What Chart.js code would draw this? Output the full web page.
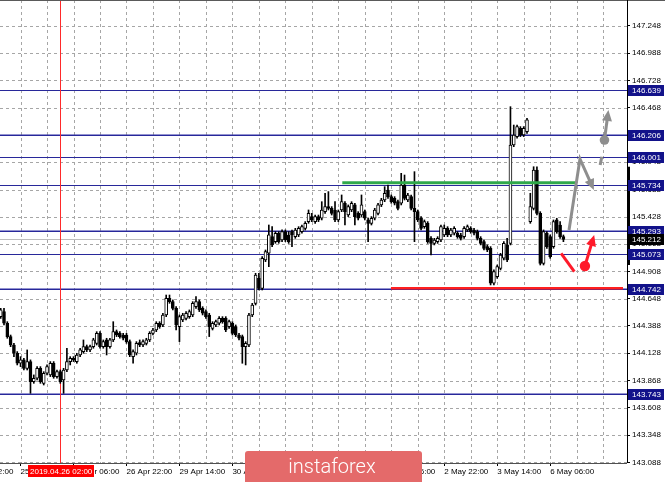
<!DOCTYPE html>
<html><head><meta charset="utf-8">
<script src="https://cdn.jsdelivr.net/npm/chart.js@4.4.1/dist/chart.umd.min.js"></script>
<style>html,body{margin:0;padding:0;background:#fff;}canvas{display:block}</style>
</head><body>
<canvas id="c" width="665" height="482"></canvas>
<script>
// H1 bars, 25 Apr 08:00 .. 6 May 10:00 (bar index 0..170)
const barOpen = [
144.477,144.525,144.414,144.287,144.207,144.128,144.033,144.065,143.985,144.049,
143.858,143.890,143.985,143.842,143.938,143.922,144.033,143.906,143.953,143.874,
143.969,144.049,144.080,144.049,144.112,144.144,144.191,144.160,144.191,144.223,
144.318,144.191,144.255,144.191,144.255,144.334,144.318,144.302,144.302,144.239,
144.096,144.128,144.230,144.207,144.223,144.255,144.318,144.350,144.414,144.398,
144.493,144.652,144.620,144.556,144.382,144.445,144.461,144.477,144.493,144.572,
144.620,144.556,144.525,144.493,144.366,144.398,144.414,144.461,144.461,144.382,
144.414,144.382,144.302,144.287,144.191,144.207,144.493,144.604,144.842,144.747,
145.017,145.081,145.240,145.192,145.271,145.208,145.287,145.255,145.287,145.239,
145.255,145.287,145.318,145.382,145.430,145.382,145.430,145.414,145.477,145.525,
145.509,145.493,145.398,145.493,145.557,145.445,145.493,145.541,145.461,145.445,
145.477,145.398,145.366,145.414,145.461,145.541,145.588,145.683,145.620,145.604,
145.572,145.557,145.731,145.588,145.620,145.509,145.477,145.414,145.334,145.366,
145.223,145.175,145.191,145.207,145.255,145.318,145.255,145.271,145.271,145.255,
145.239,145.302,145.318,145.302,145.287,145.223,145.191,145.144,145.128,144.795,
144.858,144.937,145.033,145.160,145.175,146.112,146.192,146.271,146.207,146.239,
145.382,145.509,145.874,145.461,144.985,145.271,145.239,145.144,145.398,145.350,
145.239];
const barHigh = [
144.556,144.556,144.429,144.302,144.223,144.144,144.096,144.080,144.160,144.065,
143.922,144.001,144.001,143.953,144.017,144.049,144.049,143.969,143.969,143.985,
144.176,144.096,144.096,144.128,144.176,144.255,144.207,144.207,144.271,144.334,
144.334,144.255,144.271,144.271,144.429,144.350,144.334,144.318,144.318,144.255,
144.160,144.239,144.255,144.255,144.271,144.334,144.366,144.429,144.429,144.509,
144.683,144.683,144.636,144.572,144.493,144.509,144.525,144.541,144.620,144.668,
144.636,144.572,144.541,144.509,144.429,144.445,144.477,144.477,144.477,144.445,
144.429,144.398,144.318,144.302,144.239,144.509,144.604,144.890,144.890,145.049,
145.112,145.350,145.334,145.287,145.287,145.303,145.303,145.287,145.302,145.318,
145.334,145.350,145.382,145.493,145.461,145.445,145.445,145.572,145.652,145.668,
145.525,145.572,145.493,145.636,145.572,145.541,145.572,145.557,145.477,145.636,
145.493,145.414,145.430,145.509,145.557,145.604,145.715,145.731,145.636,145.620,
145.588,145.842,145.826,145.652,145.636,145.858,145.493,145.430,145.398,145.382,
145.239,145.223,145.239,145.350,145.350,145.334,145.318,145.334,145.287,145.271,
145.334,145.350,145.334,145.318,145.302,145.239,145.207,145.160,145.144,144.922,
144.969,145.080,145.191,145.223,146.477,146.302,146.302,146.287,146.287,146.367,
145.652,145.905,145.905,145.477,145.303,145.287,145.255,145.398,145.414,145.382,
145.255];
const barLow = [
144.461,144.398,144.271,144.191,144.096,144.017,144.001,143.969,143.969,143.747,
143.842,143.874,143.842,143.826,143.922,143.906,143.890,143.890,143.842,143.747,
143.953,144.017,144.049,144.033,144.096,144.128,144.144,144.144,144.176,144.207,
144.176,144.176,144.112,144.176,144.239,144.287,144.271,144.255,144.223,144.096,
144.033,144.112,144.191,144.191,144.207,144.239,144.302,144.334,144.366,144.382,
144.477,144.604,144.541,144.350,144.239,144.429,144.445,144.461,144.477,144.556,
144.525,144.493,144.461,144.287,144.350,144.382,144.398,144.414,144.334,144.366,
144.302,144.287,144.255,144.033,144.017,144.191,144.477,144.588,144.731,144.731,
145.001,144.953,145.144,145.176,145.176,145.192,145.192,145.175,145.144,145.223,
145.239,145.271,145.302,145.366,145.382,145.366,145.382,145.398,145.461,145.493,
145.445,145.382,145.382,145.477,145.350,145.430,145.477,145.350,145.398,145.430,
145.398,145.191,145.350,145.398,145.445,145.525,145.572,145.604,145.557,145.541,
145.493,145.541,145.588,145.572,145.493,145.191,145.382,145.302,145.318,145.175,
145.064,145.160,145.175,145.191,145.239,145.239,145.239,145.255,145.223,145.207,
145.223,145.287,145.271,145.255,145.207,145.160,145.112,145.096,144.779,144.779,
144.842,144.922,145.017,145.001,145.160,146.096,146.176,146.192,146.192,146.223,
145.366,145.493,145.445,144.969,144.969,145.128,145.033,145.128,145.271,145.223,
145.191];
const barClose = [
144.541,144.414,144.287,144.207,144.128,144.033,144.065,143.985,144.049,143.858,
143.890,143.985,143.858,143.938,144.001,144.033,143.906,143.953,143.858,143.969,
144.049,144.080,144.065,144.112,144.160,144.191,144.160,144.191,144.255,144.318,
144.191,144.239,144.191,144.255,144.334,144.302,144.287,144.271,144.239,144.112,
144.144,144.223,144.207,144.239,144.255,144.318,144.350,144.414,144.382,144.493,
144.652,144.620,144.556,144.398,144.477,144.493,144.509,144.525,144.604,144.620,
144.541,144.509,144.477,144.382,144.414,144.429,144.461,144.429,144.350,144.429,
144.318,144.302,144.271,144.191,144.223,144.493,144.588,144.874,144.747,145.033,
145.096,145.256,145.160,145.271,145.192,145.287,145.208,145.191,145.255,145.302,
145.318,145.334,145.366,145.461,145.398,145.430,145.398,145.493,145.525,145.509,
145.461,145.398,145.477,145.572,145.477,145.525,145.557,145.430,145.414,145.541,
145.414,145.366,145.414,145.493,145.541,145.588,145.652,145.620,145.572,145.557,
145.509,145.731,145.604,145.636,145.509,145.477,145.398,145.318,145.382,145.191,
145.175,145.207,145.223,145.334,145.318,145.255,145.302,145.318,145.239,145.223,
145.318,145.334,145.287,145.271,145.223,145.175,145.128,145.112,144.795,144.906,
144.953,145.064,145.175,145.017,146.112,146.207,146.287,146.207,146.271,146.351,
145.525,145.874,145.461,144.985,145.287,145.144,145.048,145.382,145.287,145.239,
145.212];

const gridBars = [6,14,22,30,38,46,54,62,70,78,86,94,102,110,118,126,134,142,150,158,166,174,182];
const tickBars = [-10,6,22,38,54,70,86,102,118,134,150,166];
const tickLabels = ["24 Apr 22:00","25 Apr 14:00","26 Apr 06:00","26 Apr 22:00","29 Apr 14:00","30 Apr 06:00","30 Apr 22:00","1 May 14:00","2 May 06:00","2 May 22:00","3 May 14:00","6 May 06:00"];
const priceTicks = [143.088,143.348,143.608,143.868,144.128,144.388,144.648,144.908,145.168,145.428,145.688,145.948,146.208,146.468,146.728,146.988,147.248];
const levelPrices = [146.639,146.206,146.001,145.734,145.293,145.073,144.742,143.743];
const lastPrice = 145.212;
const markerBar = 18;
const markerText = "2019.04.26 02:00";
const greenSeg = [[103.2,145.752],[173.5,145.752]];
const redSeg = [[117.9,144.748],[188.0,144.748]];
const grayPath = [[171.7,145.302],[175.0,145.979],[179.2,145.683]];
const grayDash = [[181.1,145.921],[181.6,146.000]];
const grayUp = [[182.4,146.159],[183.6,146.445]];
const redPath = [[169.3,145.080],[173.3,144.905]];
const redUp = [[176.5,144.959],[179.3,145.255]];
const todayFrom = 160;

const FONT = '"Liberation Sans", Arial, sans-serif';
const lightLevels = [146.206,145.293,144.742,143.743];

function px(v){return Math.round(v)+0.5;}
function line(ctx,x1,y1,x2,y2){ctx.beginPath();ctx.moveTo(x1,y1);ctx.lineTo(x2,y2);ctx.stroke();}
function head(ctx,x0,y0,x1,y1,len,half){
  const a=Math.atan2(y1-y0,x1-x0), c=Math.cos(a), s=Math.sin(a);
  ctx.beginPath();ctx.moveTo(x1,y1);
  ctx.lineTo(x1-len*c+half*s,y1-len*s-half*c);
  ctx.lineTo(x1-len*c-half*s,y1-len*s+half*c);
  ctx.closePath();ctx.fill();
}

const overlay = {
  id:'overlay',
  beforeDatasetsDraw(chart){
    const {ctx, chartArea:a, scales:{x,y}} = chart;
    ctx.save();
    ctx.lineWidth=1;
    // dashed grid
    ctx.strokeStyle='#a6a6a6';ctx.setLineDash([3,3]);
    gridBars.forEach(b=>{const gx=px(x.getPixelForValue(b)); if(gx<a.right) line(ctx,gx,a.top,gx,a.bottom);});
    priceTicks.forEach(p=>{const gy=px(y.getPixelForValue(p)); if(gy<a.bottom) line(ctx,a.left,gy,a.right,gy);});
    ctx.setLineDash([]);
    ctx.strokeStyle='#bdbdbd';
    let py=px(y.getPixelForValue(lastPrice)); line(ctx,a.left,py,a.right,py);
    levelPrices.forEach(p=>{
      const yy=y.getPixelForValue(p);
      if(lightLevels.includes(p)){ctx.strokeStyle='rgba(60,60,170,0.55)';ctx.lineWidth=2;line(ctx,a.left,Math.round(yy),a.right,Math.round(yy));}
      ctx.strokeStyle='#28289a';ctx.lineWidth=1;line(ctx,a.left,px(yy),a.right,px(yy));
    });
    ctx.strokeStyle='#ff2a2a';ctx.lineWidth=1;
    const mx=px(x.getPixelForValue(markerBar)); line(ctx,mx,a.top,mx,a.bottom);
    ctx.restore();
  },
  afterDatasetsDraw(chart){
    const {ctx, scales:{x,y}} = chart;
    const P=(d)=>[x.getPixelForValue(d[0]),y.getPixelForValue(d[1])];
    ctx.save();
    ctx.lineCap='butt';
    ctx.lineWidth=3;
    let g1=P(greenSeg[0]),g2=P(greenSeg[1]);
    ctx.strokeStyle='#2fa84a';line(ctx,g1[0],g1[1],g2[0],g2[1]);
    let r1=P(redSeg[0]),r2=P(redSeg[1]);
    ctx.strokeStyle='#ff1f1f';ctx.lineWidth=2.5;line(ctx,r1[0],r1[1],r2[0],r2[1]);
    // gray scenario
    ctx.strokeStyle='#8e8e8e';ctx.fillStyle='#8e8e8e';ctx.lineWidth=3;
    const gp=grayPath.map(P);
    ctx.beginPath();ctx.moveTo(gp[0][0],gp[0][1]);ctx.lineTo(gp[1][0],gp[1][1]);
    const tip=gp[2], prev=gp[1];
    const ang=Math.atan2(tip[1]-prev[1],tip[0]-prev[0]);
    ctx.lineTo(tip[0]-8*Math.cos(ang),tip[1]-8*Math.sin(ang));ctx.stroke();
    head(ctx,prev[0],prev[1],tip[0],tip[1],11,5);
    const gd=grayDash.map(P);line(ctx,gd[0][0],gd[0][1],gd[1][0],gd[1][1]);
    const gu=grayUp.map(P);
    ctx.beginPath();ctx.arc(gu[0][0],gu[0][1],4.8,0,Math.PI*2);ctx.fill();
    const ua=Math.atan2(gu[1][1]-gu[0][1],gu[1][0]-gu[0][0]);
    line(ctx,gu[0][0],gu[0][1],gu[1][0]-8*Math.cos(ua),gu[1][1]-8*Math.sin(ua));
    head(ctx,gu[0][0],gu[0][1],gu[1][0],gu[1][1],11,5);
    // red scenario
    ctx.strokeStyle='#ff1a2a';ctx.fillStyle='#ff1a2a';ctx.lineWidth=3;
    const rp=redPath.map(P);line(ctx,rp[0][0],rp[0][1],rp[1][0],rp[1][1]);
    const ru=redUp.map(P);
    ctx.beginPath();ctx.arc(ru[0][0],ru[0][1],5.2,0,Math.PI*2);ctx.fill();
    const ra=Math.atan2(ru[1][1]-ru[0][1],ru[1][0]-ru[0][0]);
    line(ctx,ru[0][0],ru[0][1],ru[1][0]-8*Math.cos(ra),ru[1][1]-8*Math.sin(ra));
    head(ctx,ru[0][0],ru[0][1],ru[1][0],ru[1][1],11,5);
    ctx.restore();
  },
  afterDraw(chart){
    const {ctx, chartArea:a, scales:{x,y}} = chart;
    ctx.save();
    ctx.lineWidth=1;
    ctx.strokeStyle='#5a5a5a';line(ctx,a.left,0.5,a.right+38,0.5);
    ctx.strokeStyle='#505050';line(ctx,a.left,px(a.bottom),a.right,px(a.bottom));
    ctx.strokeStyle='#000';line(ctx,px(a.right),a.top,px(a.right),a.bottom);
    // today's range bar on the price axis
    const hi=Math.max(...barHigh.slice(todayFrom)), lo=Math.min(...barLow.slice(todayFrom));
    ctx.fillStyle='#000';
    ctx.fillRect(a.right,y.getPixelForValue(hi),3,y.getPixelForValue(lo)-y.getPixelForValue(hi));
    ctx.font='8px '+FONT;ctx.textBaseline='middle';ctx.textAlign='left';
    const box=(p,bg)=>{
      const yy=Math.round(y.getPixelForValue(p));
      ctx.fillStyle=bg;ctx.fillRect(a.right+1,yy-5,36,11);
      ctx.fillStyle='#fff';ctx.fillText(p.toFixed(3),a.right+5,yy+0.5);
    };
    levelPrices.forEach(p=>box(p,'#12128a'));
    box(lastPrice,'#000');
    // marker label on time axis
    ctx.fillStyle='#ff0000';ctx.fillRect(28,465,66,12);
    ctx.fillStyle='#fff';ctx.fillText(markerText,30,471.5);
    // watermark
    ctx.fillStyle='#e46a6a';
    ctx.beginPath();
    if(ctx.roundRect){ctx.roundRect(245,451,177,36,3);}else{ctx.rect(245,451,177,36);}
    ctx.fill();
    ctx.fillStyle='#ffffff';ctx.textAlign='center';ctx.textBaseline='alphabetic';
    ctx.font='300 20px Roboto, "Open Sans", sans-serif';
    ctx.fillText('instaforex',332,473);
    ctx.restore();
  }
};

const bodyColors = barOpen.map((o,i)=>barClose[i]>=o?'#ffffff':'#000000');

new Chart(document.getElementById('c'),{
  type:'bar',
  data:{datasets:[
    {label:'wick',data:barOpen.map((o,i)=>({x:i,y:[barLow[i],barHigh[i]]})),
     backgroundColor:'#000',borderWidth:0,barThickness:1,grouped:false,order:2},
    {label:'body',data:barOpen.map((o,i)=>({x:i,y:[o,barClose[i]]})),
     backgroundColor:bodyColors,borderColor:'#000',borderWidth:1,borderSkipped:false,
     barThickness:3,grouped:false,order:1}
  ]},
  options:{
    responsive:false,animation:false,devicePixelRatio:1,
    layout:{padding:0},
    plugins:{legend:{display:false},tooltip:{enabled:false}},
    scales:{
      x:{type:'linear',offset:false,min:-0.21,max:189.21,
        afterBuildTicks:s=>{s.ticks=[-10].concat(gridBars).map(v=>({value:v}));},
        afterFit:s=>{s.height=19;s.paddingLeft=0;s.paddingRight=0;},
        ticks:{autoSkip:false,maxRotation:0,minRotation:0,align:'start',padding:1,color:'#000',
          font:{size:8,family:FONT},
          callback:(v)=>{const k=tickBars.indexOf(v);return k>=0?tickLabels[k]:'';}},
        grid:{offset:false,drawOnChartArea:false,lineWidth:1,tickLength:3,
          tickColor:(c)=>(c.tick&&tickBars.includes(c.tick.value))?'#000':'rgba(0,0,0,0)'},
        border:{display:false}},
      y:{type:'linear',position:'right',min:143.083,max:147.493,
        afterBuildTicks:s=>{s.ticks=priceTicks.map(v=>({value:v}));},
        afterFit:s=>{s.width=38;s.paddingTop=0;s.paddingBottom=0;},
        ticks:{padding:2,color:'#000',font:{size:8,family:FONT},callback:v=>Number(v).toFixed(3)},
        grid:{drawOnChartArea:false,lineWidth:1,tickLength:3,tickColor:'#000'},
        border:{display:false}}
    }
  },
  plugins:[overlay]
});
</script>
</body></html>
